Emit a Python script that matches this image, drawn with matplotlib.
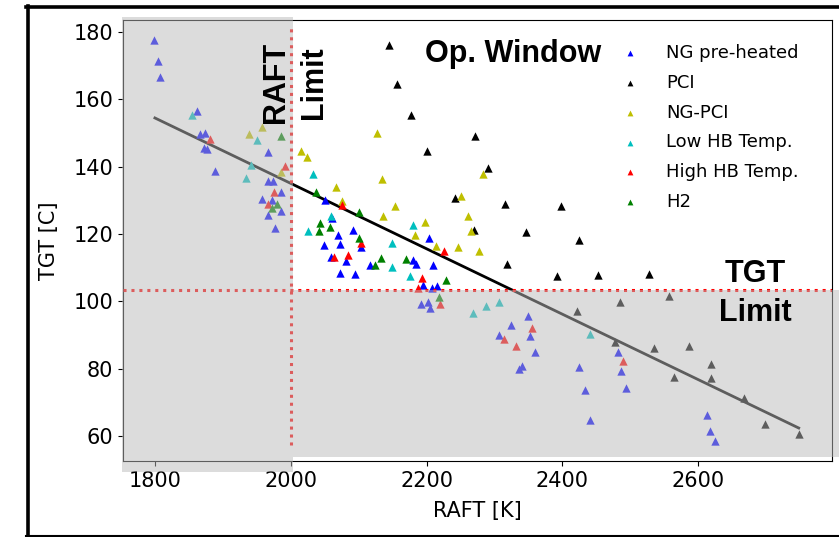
import matplotlib
matplotlib.use('Agg')
import matplotlib.pyplot as plt
from matplotlib.patches import Rectangle
from matplotlib.lines import Line2D

# ---- data (RAFT [K], TGT [C]) ----
ng_raft = [1799, 1805, 1807, 1862, 1867, 1874, 1872, 1877, 1888, 1967, 1967, 1974, 1986, 1958,
           1973, 1986, 1967, 1977, 2050, 2061, 2091, 2069, 2073, 2103, 2049, 2204, 2059, 2082,
           2073, 2094, 2116, 2180, 2184, 2210, 2195, 2215, 2208, 2192, 2202, 2205, 2349, 2324,
           2306, 2352, 2360, 2341, 2336, 2425, 2433, 2441, 2482, 2487, 2493, 2613, 2617, 2625]
ng_tgt = [177.6, 171.5, 166.6, 156.5, 149.7, 150.0, 145.5, 145.2, 138.8, 144.4, 135.9, 135.9, 132.4, 130.4,
          130.1, 127.0, 125.7, 121.7, 130.0, 124.9, 121.2, 119.6, 117.2, 116.2, 116.9, 118.9, 113.1, 112.1,
          108.4, 108.1, 110.7, 112.3, 111.0, 110.8, 104.9, 104.6, 103.9, 99.3, 99.7, 98.0, 95.6, 93.1,
          90.1, 89.7, 85.0, 80.9, 79.9, 80.6, 73.8, 64.9, 85.0, 79.3, 74.3, 66.3, 61.4, 58.4]

pci_raft = [2144, 2157, 2177, 2201, 2242, 2271, 2291, 2270, 2316, 2398, 2346, 2424, 2319, 2392,
            2452, 2528, 2422, 2485, 2477, 2557, 2535, 2586, 2619, 2564, 2619, 2667, 2698, 2749]
pci_tgt = [176.3, 164.5, 155.4, 144.7, 130.8, 149.2, 139.6, 121.3, 128.9, 128.4, 120.7, 118.2, 111.2, 107.5,
           107.8, 108.1, 97.2, 99.7, 88.0, 101.7, 86.1, 86.9, 81.5, 77.7, 77.3, 71.4, 63.7, 60.7]

ngpci_raft = [1938, 1957, 1985, 2015, 2024, 2127, 2135, 2067, 2076, 2154, 2136, 2198, 2183, 2250,
              2261, 2265, 2283, 2214, 2247, 2277]
ngpci_tgt = [149.7, 151.8, 138.4, 144.8, 142.9, 149.9, 136.5, 133.9, 129.9, 128.4, 125.4, 123.5, 119.6, 131.4,
             125.5, 121.0, 138.0, 116.6, 116.1, 115.1]

low_raft = [1854, 1950, 1941, 1934, 2033, 2060, 2026, 2180, 2149, 2149, 2176, 2269, 2287, 2307, 2440]
low_tgt = [155.3, 148.0, 140.5, 136.8, 138.0, 125.5, 121.0, 122.7, 117.3, 110.2, 107.6, 96.7, 98.5, 99.7, 90.3]

high_raft = [1881, 1992, 1976, 1967, 2076, 2103, 2063, 2084, 2226, 2194, 2188, 2220, 2355, 2314, 2331, 2489]
high_tgt = [148.2, 140.2, 132.4, 128.9, 128.6, 117.5, 113.3, 113.7, 115.0, 107.0, 104.1, 99.2, 92.2, 88.9, 86.8, 82.2]

h2_raft = [1986, 1980, 1973, 2037, 2101, 2043, 2058, 2041, 2100, 2124, 2133, 2170, 2229, 2219]
h2_tgt = [149.2, 129.0, 127.7, 132.4, 126.5, 123.3, 122.0, 121.0, 118.7, 110.7, 112.9, 112.6, 106.4, 101.2]

series = [
    ("NG pre-heated", ng_raft, ng_tgt, 'b'),
    ("PCI", pci_raft, pci_tgt, 'k'),
    ("NG-PCI", ngpci_raft, ngpci_tgt, 'y'),
    ("Low HB Temp.", low_raft, low_tgt, 'c'),
    ("High HB Temp.", high_raft, high_tgt, 'r'),
    ("H2", h2_raft, h2_tgt, 'g'),
]

# linear trend line end points
fit_raft = [1800, 2748]
fit_tgt = [154.5, 62.4]

raft_limit = 2000
tgt_limit = 103.3

W, H = 839, 537


def fx(px):
    return px / W


def fy(py):
    return 1 - py / H


fig = plt.figure(figsize=(W / 100, H / 100), dpi=100)
ax = fig.add_axes([fx(123), fy(461), fx(832) - fx(123), fy(20) - fy(461)])

for label, xs, ys, col in series:
    ax.scatter(xs, ys, marker='^', s=36, c=col, linewidths=0, label=label, zorder=3)

ax.plot(fit_raft, fit_tgt, color='k', lw=2, zorder=2)
ax.axhline(tgt_limit, color='red', lw=2.2, linestyle=(0, (1, 1.6)), zorder=4)
ax.vlines(raft_limit, 57.3, 182.2, color='red', lw=2.2, linestyle=(0, (1, 1.6)), zorder=4)

ax.set_xlim(1753, 2797)
ax.set_ylim(52.6, 183.6)
ax.set_xticks([1800, 2000, 2200, 2400, 2600])
ax.set_yticks([60, 80, 100, 120, 140, 160, 180])
ax.tick_params(labelsize=15)
ax.set_xlabel("RAFT [K]", fontsize=15, labelpad=7.5)
ax.set_ylabel("TGT [C]", fontsize=15, labelpad=10.5)

ax.legend(loc='upper left', bbox_to_anchor=(fx(605), fy(37)), bbox_transform=fig.transFigure,
          frameon=False, fontsize=13, markerscale=0.7, handletextpad=1.0, borderaxespad=0,
          labelspacing=0.65)

# semi-transparent grey overlays (out-of-window regions)
grey = (0.73, 0.73, 0.73)
fig.add_artist(Rectangle((fx(122), fy(472)), fx(293) - fx(122), fy(17) - fy(472),
                         transform=fig.transFigure, facecolor=grey, alpha=0.5, edgecolor='none', zorder=5))
fig.add_artist(Rectangle((fx(293), fy(457)), fx(839) - fx(293), fy(290) - fy(457),
                         transform=fig.transFigure, facecolor=grey, alpha=0.5, edgecolor='none', zorder=5))

# annotations
bold = dict(family=['Liberation Sans', 'DejaVu Sans'], weight='bold', fontsize=22, zorder=6)
fig.text(fx(425), fy(62), "Op. Window", ha='left', va='baseline', **bold)
fig.text(fx(276), fy(82), "RAFT", rotation=90, ha='center', va='center', **bold)
fig.text(fx(314), fy(83), "Limit", rotation=90, ha='center', va='center', **bold)
fig.text(fx(755), fy(282), "TGT", ha='center', va='baseline', **bold)
fig.text(fx(755), fy(321), "Limit", ha='center', va='baseline', **bold)

# slide frame
fig.add_artist(Line2D([fx(27.5), fx(27.5)], [fy(6), fy(536)], transform=fig.transFigure, color='k', lw=2.6, zorder=7))
fig.add_artist(Line2D([fx(26), fx(839)], [fy(6.5), fy(6.5)], transform=fig.transFigure, color='k', lw=2.6, zorder=7))
fig.add_artist(Line2D([fx(26), fx(839)], [fy(536), fy(536)], transform=fig.transFigure, color='k', lw=1.5, zorder=7))

fig.savefig("out.png", dpi=100)
